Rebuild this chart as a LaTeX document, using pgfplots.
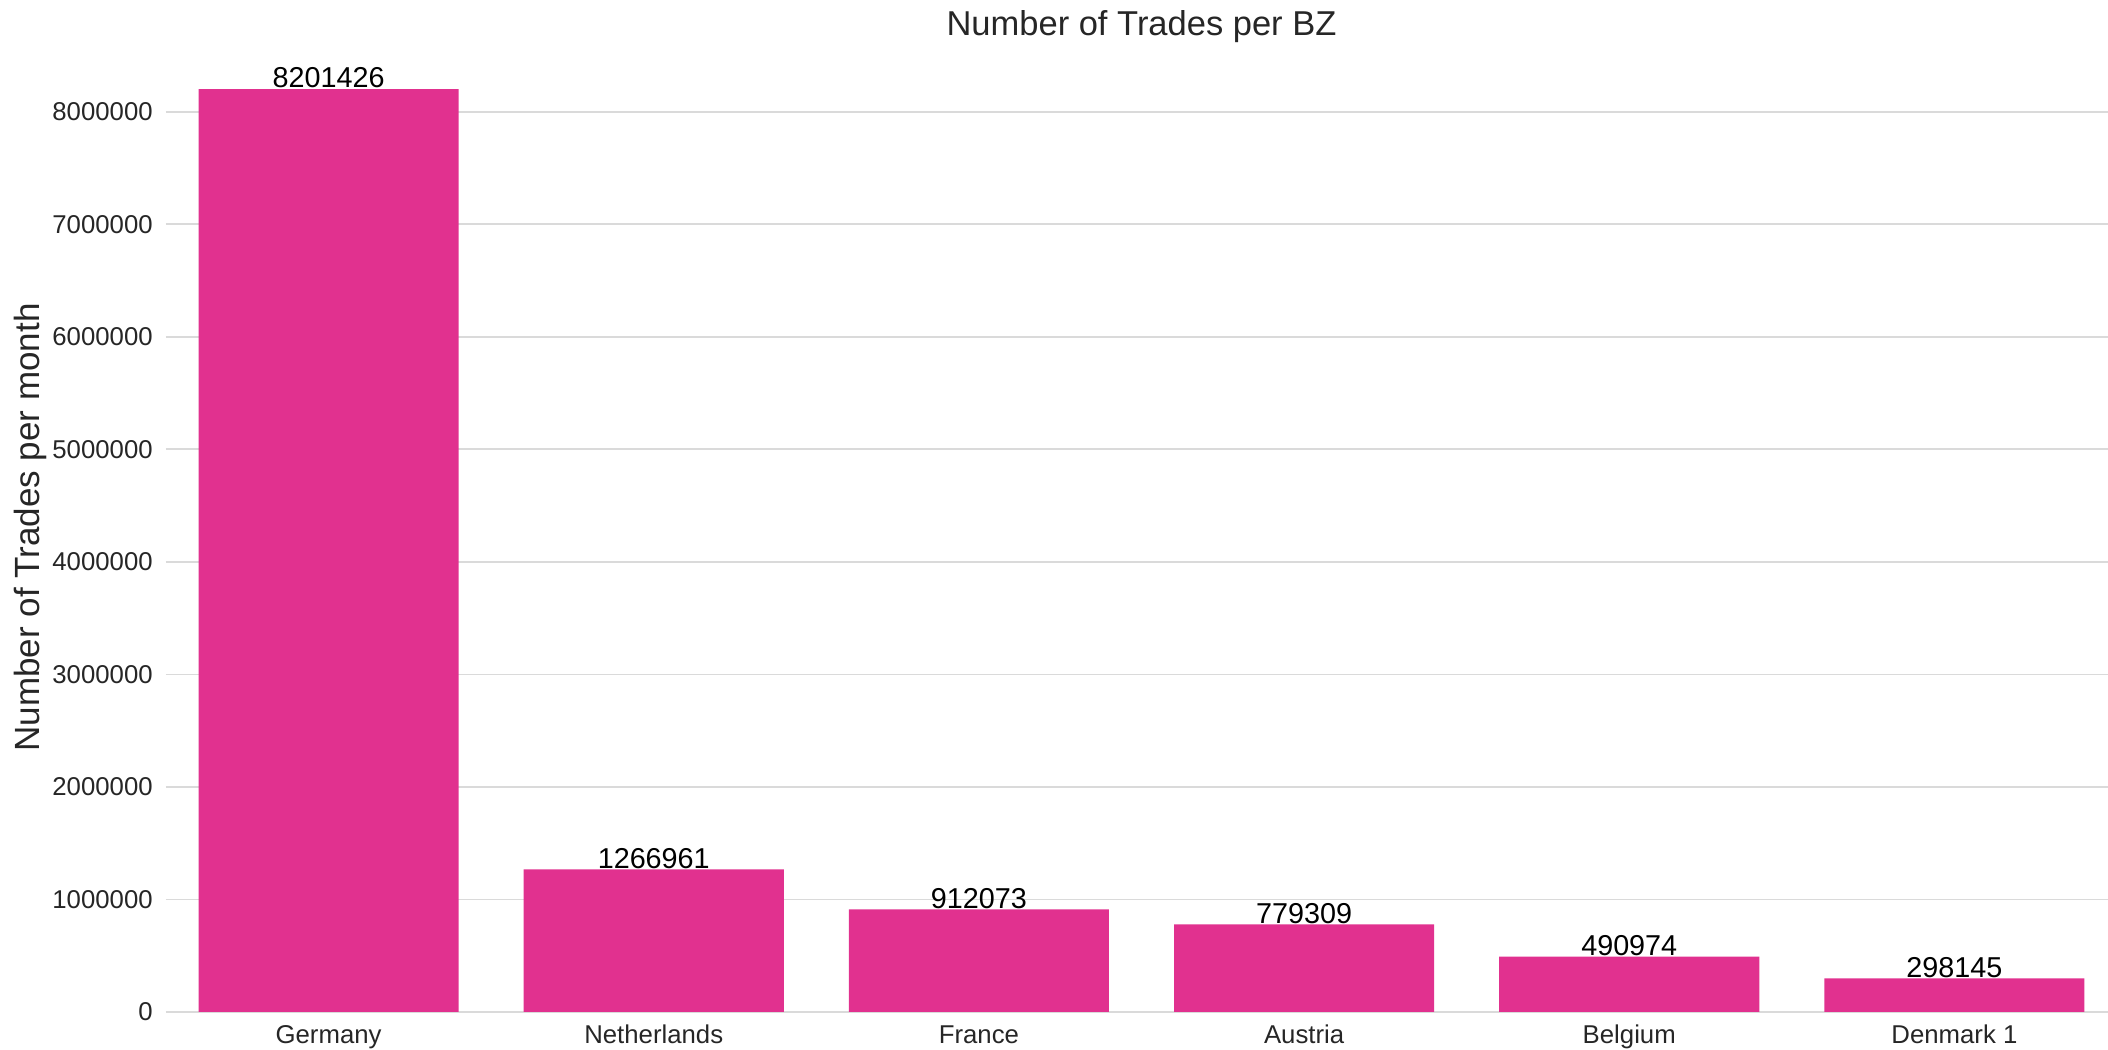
\documentclass[border=0pt]{standalone}
\usepackage{pgfplots}
\pgfplotsset{compat=1.18}
\usepackage{pgfplotstable}
\usepackage{fontspec}
\setmainfont{Liberation Sans}
\usetikzlibrary{calc}
\definecolor{barpink}{RGB}{225,49,143}
\definecolor{txt}{RGB}{38,38,38}
\definecolor{gridc}{RGB}{218,218,218}

% trades per bidding zone
\pgfplotstableread{
x y lab
0 8201426 8201426
1 1266961 1266961
2 912073 912073
3 779309 779309
4 490974 490974
5 298145 298145
}\trades

\begin{document}
\begin{tikzpicture}
\begin{axis}[
  scale only axis,
  width=780.4pt, height=387.6pt,
  ybar, bar width=0.8,
  xmin=-0.5, xmax=5.5,
  ymin=0, ymax=8611497,
  xtick={0,1,2,3,4,5},
  xticklabels={Germany,Netherlands,France,Austria,Belgium,{Denmark 1}},
  ytick={0,1000000,2000000,3000000,4000000,5000000,6000000,7000000,8000000},
  yticklabels={0,1000000,2000000,3000000,4000000,5000000,6000000,7000000,8000000},
  scaled y ticks=false,
  major tick length=0pt,
  axis line style={draw=none},
  ymajorgrids,
  grid style={gridc, line width=0.7pt},
  ticklabel style={font=\fontsize{10.3}{12}\selectfont, text=txt},
  yticklabel style={xshift=-1.8pt},
  xticklabel style={yshift=-1.8pt},
  title={Number of Trades per BZ},
  every axis title/.style={at={(0.5,1)}, anchor=base, yshift=3pt,
    font=\fontsize{13.8}{16}\selectfont, text=txt},
  ylabel={Number of Trades per month},
  every axis y label/.style={at={(axis description cs:-0.0697,0.5)}, rotate=90, anchor=center,
    font=\fontsize{14}{16}\selectfont, text=txt},
  clip=false,
]
\addplot[fill=barpink, draw=none,
  nodes near coords, point meta=explicit symbolic,
  nodes near coords style={font=\fontsize{11.5}{13}\selectfont, text=black, anchor=base, inner sep=0pt, yshift=0.5pt}]
  table[x=x, y=y, meta=lab] {\trades};
\end{axis}
\pgfresetboundingbox
\path[use as bounding box] ($(current axis.south west)+(-66.4pt,-15.2pt)$) rectangle ($(current axis.north east)+(-3.6pt,17.2pt)$);
\end{tikzpicture}
\end{document}
